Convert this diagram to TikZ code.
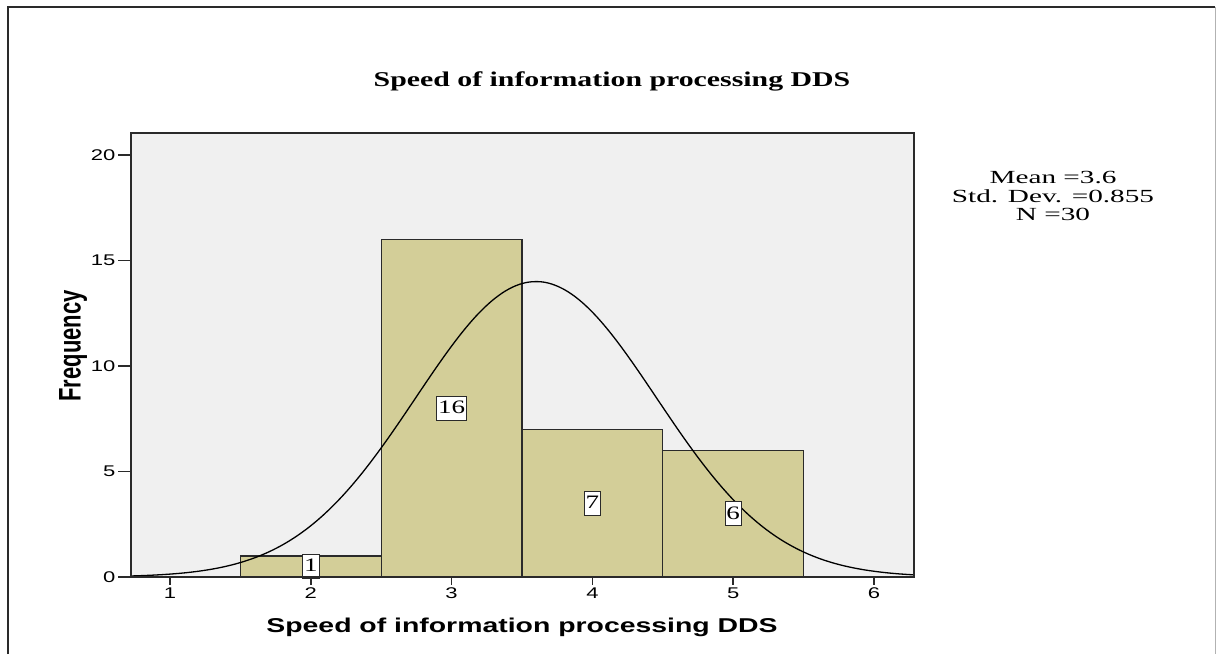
\documentclass[tikz,border=0pt]{standalone}
\usepackage{fontspec}
\setmainfont{Liberation Serif}
\setsansfont{Liberation Sans}
\usepackage{graphicx}
% SPSS-style output is stretched sideways; text is widened to match
\newcommand\widetext[1]{\scalebox{1.42}[1]{#1}}
\newcommand\widerstat[1]{\scalebox{1.58}[1]{#1}}
\definecolor{plotbg}{HTML}{F0F0F0}
\definecolor{barfill}{HTML}{D3CE98}
\definecolor{ink}{HTML}{2A2A2A}
\tikzset{
  barbox/.style={fill=barfill, draw=ink, line width=1.3pt},
  normalcurve/.style={draw=black, line width=1.3pt},
  barlabel/.style={fill=white, draw=ink, line width=0.7pt, inner xsep=1.5pt, inner ysep=2.5pt,
    text height=15pt, text depth=4pt, font=\fontsize{19}{19}\selectfont},
  tickmark/.style={draw=ink, line width=1.5pt},
  ticklabel/.style={font=\sffamily\fontsize{15.5}{15.5}\selectfont, inner sep=2pt},
  statline/.style={inner sep=0pt, font=\fontsize{18.5}{18.5}\selectfont},
}
\begin{document}
\begin{tikzpicture}[x=1pt,y=1pt]
\useasboundingbox (0,0) rectangle (1216,654);
\fill[white] (0,0) rectangle (1216,654);
% outer chart frame
\draw[ink, line width=1.2pt] (8,0) -- (8,647) -- (1215,647);
\draw[gray!60, line width=1pt] (1215,647) -- (1215,0);

% chart title
\node (title) at (612,573) {\fontsize{21}{21}\selectfont\bfseries\widetext{Speed of information processing DDS}};

% summary statistics, one line per node
\node[statline, anchor=base] (mean) at (1053,470) {\widerstat{Mean =3.6}};
\node[statline, anchor=base] (sd) at (1053,451.5) {\widerstat{Std. Dev. =0.855}};
\node[statline, anchor=base] (n) at (1053,433) {\widerstat{N =30}};

% axis titles
\node (xtitle) at (522,27) {\sffamily\bfseries\fontsize{20}{20}\selectfont\widetext{Speed of information processing DDS}};
\node[rotate=90] (ytitle) at (73,308) {\sffamily\bfseries\fontsize{22}{22}\selectfont\scalebox{1}[1.42]{Frequency}};

\begin{scope}[x=140.8pt, y=21.1pt, shift={(29.2pt,77pt)}]
  % plot area
  \fill[plotbg] (0.723,0) rectangle (6.284,21.04);
  % histogram bars
  \draw[barbox] (1.5,0) rectangle (2.5,1);
  \draw[barbox] (2.5,0) rectangle (3.5,16);
  \draw[barbox] (3.5,0) rectangle (4.5,7);
  \draw[barbox] (4.5,0) rectangle (5.5,6);
  % fitted normal curve, N*width*pdf
  \draw[normalcurve] plot[domain=0.723:6.284, samples=160, smooth]
    (\x, {13.998*exp(-((\x-3.6)^2)/(2*0.855*0.855))});
  % bar counts
  \node[barlabel] (c1) at (2,0.5) {\widetext{1}};
  \node[barlabel] (c16) at (3,8) {\widetext{16}};
  \node[barlabel] (c7) at (4,3.5) {\widetext{7}};
  \node[barlabel] (c6) at (5,3) {\widetext{6}};
  % plot frame
  \draw[ink, line width=1.5pt] (0.723,0) rectangle (6.284,21.04);
  % y axis ticks
  \foreach \v in {0,5,10,15,20} {
    \draw[tickmark] (0.723,\v) -- ++(-13pt,0) node[left, ticklabel] (yl\v) {\widetext{\v}};
  }
  % x axis ticks
  \foreach \v in {1,...,6} {
    \draw[tickmark] (\v,0) -- ++(0,-8pt) node[below, ticklabel] (xl\v) {\widetext{\v}};
  }
\end{scope}
\end{tikzpicture}
\end{document}
